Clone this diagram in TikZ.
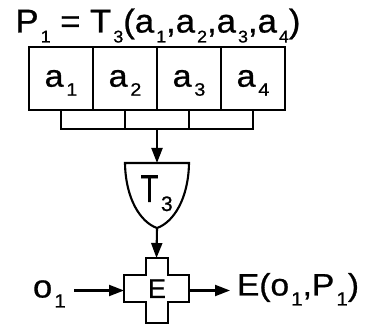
\documentclass[tikz,border=0pt]{standalone}
\usepackage{graphicx}
\usepackage{fontspec}
\setmainfont{Liberation Sans}[FakeBold=0.8]
\usetikzlibrary{arrows.meta,calc}
\newcommand\sbx[4]{\kern#1pt\raisebox{-#2pt}[0pt][0pt]{\fontsize{#3pt}{#3pt}\selectfont #4}}
\newcommand\tsb[1]{\sbx{2}{10}{17}{#1}}
\newcommand\bsb[1]{\sbx{2.5}{9}{18}{#1}}
\newcommand\osb[1]{\sbx{2}{10}{19}{#1}}
\begin{document}
\begin{tikzpicture}[x=1pt,y=-1pt,line width=2.1pt,
  >={Triangle[length=15pt,width=11pt]},
  cell/.style={draw,minimum width=64pt,minimum height=63pt,inner sep=0pt,outer sep=0pt,font=\fontsize{31pt}{31pt}\selectfont},
  txt/.style={inner sep=0pt,outer sep=0pt,anchor=base west},
  ghost/.style={inner sep=0pt,outer sep=0pt}]
\useasboundingbox (0,0) rectangle (370,331);

% title
\node[txt,font=\fontsize{33pt}{33pt}\selectfont] (title) at (15.5,32.5)
  {\scalebox{1.05}[1]{P\tsb{1} = T\tsb{3}(a\tsb{1},a\tsb{2},a\tsb{3},a\tsb{4})}};

% cells
\node[cell] (b1) at (61,78.5) {\scalebox{1.1}[1]{a\bsb{1}}};
\node[cell] (b2) at (125,78.5) {\scalebox{1.1}[1]{a\bsb{2}}};
\node[cell] (b3) at (189,78.5) {\scalebox{1.1}[1]{a\bsb{3}}};
\node[cell] (b4) at (253,78.5) {\scalebox{1.1}[1]{a\bsb{4}}};

% bracket
\coordinate (jn) at (157,129);
\draw (b1.south) -- (b1.south |- jn) -- (b4.south |- jn) -- (b4.south);
\draw (b2.south) -- (b2.south |- jn);
\draw (b3.south) -- (b3.south |- jn);

% T3 shield
\node[ghost,minimum width=64pt,minimum height=65pt] (T3) at (157,195.5) {};
\draw (T3.north west) -- (T3.north east)
  .. controls ($(T3.north east)+(-0.5,35)$) and ($(T3.south)+(17,-6)$) .. (T3.south)
  .. controls ($(T3.south)+(-17,-6)$) and ($(T3.north west)+(0.5,35)$) .. (T3.north west) -- cycle;
\node[ghost,anchor=base,font=\fontsize{39pt}{39pt}\selectfont] (Tl) at (149.5,202) {\scalebox{0.75}[1]{T}};
\node[txt,font=\fontsize{21pt}{21pt}\selectfont] (Ts) at (161,211) {3};

% E cross
\node[ghost,minimum width=65pt,minimum height=65pt] (E) at (156.5,290.5) {};
\draw (146,258) -- (168,258) -- (168,275) -- (189,275) -- (189,302) -- (168,302)
  -- (168,323) -- (146,323) -- (146,302) -- (124,302) -- (124,275) -- (146,275) -- cycle;
\node[ghost,anchor=base,font=\fontsize{27pt}{27pt}\selectfont] (El) at (157,298) {E};

% arrows
\draw[->] (jn) -- (T3.north);
\draw[->] (T3.south) -- (E.north);

% input / output
\node[txt,font=\fontsize{32pt}{32pt}\selectfont] (o1) at (33,297.5) {\scalebox{1.08}[1]{o\osb{1}}};
\coordinate (oin) at (74,290.5);
\draw[->] (oin) -- (E.west);
\node[txt,font=\fontsize{31pt}{31pt}\selectfont] (out) at (237,295.5) {\scalebox{1.08}[1]{E(o\osb{1},P\osb{1})}};
\coordinate (eo) at (230,290.5);
\draw[->] (E.east) -- (eo);
\end{tikzpicture}
\end{document}
